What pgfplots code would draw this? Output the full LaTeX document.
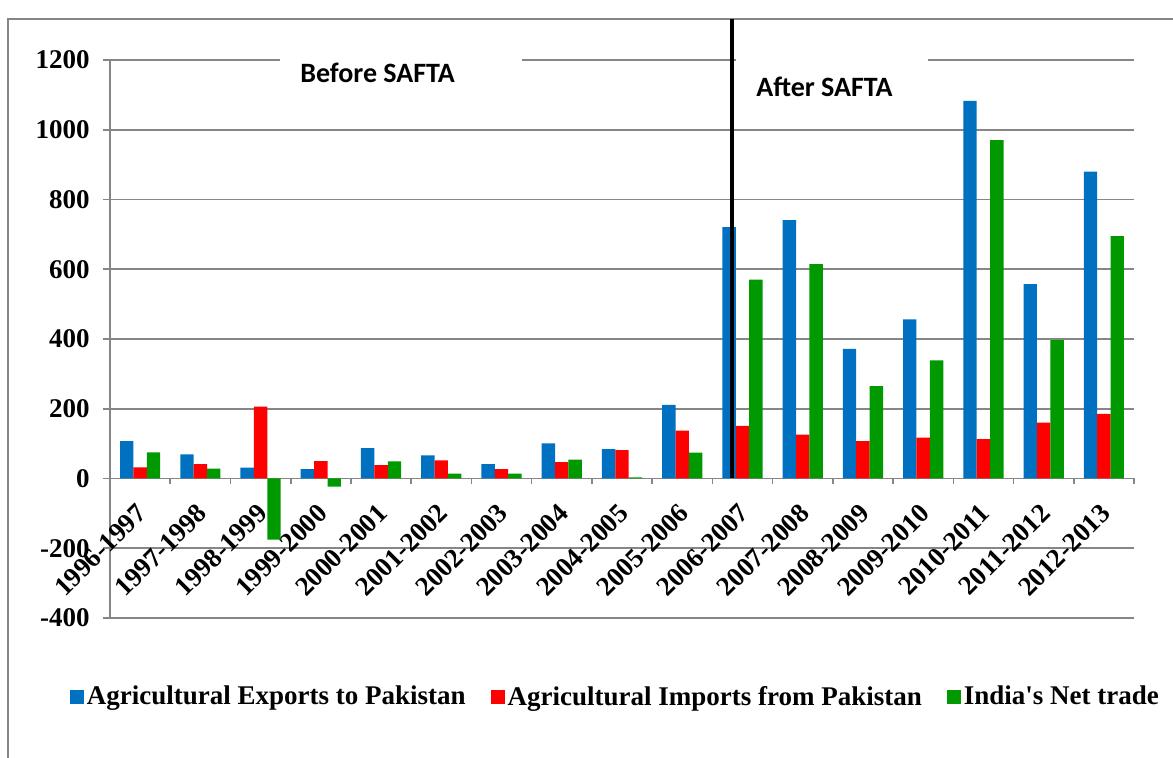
\documentclass[border=0pt]{standalone}
\usepackage{pgfplots}
\pgfplotsset{compat=1.18}
\usepackage{fontspec}
\setmainfont{Liberation Serif}
\newfontfamily\calibri{Carlito}
\definecolor{cblue}{RGB}{0,112,192}
\definecolor{cred}{RGB}{255,0,0}
\definecolor{cgreen}{RGB}{0,153,0}
\definecolor{cgrid}{RGB}{134,134,134}
\begin{document}
\begin{tikzpicture}
\useasboundingbox (0,0) rectangle (586.5pt,379pt);
\draw[cgrid, line width=0.6pt] (4pt,0pt) -- (4pt,369.5pt) -- (586.5pt,369.5pt);
\begin{axis}[
  at={(55pt,70pt)}, anchor=south west,
  scale only axis, width=512pt, height=279pt,
  xmin=-0.5, xmax=16.5, ymin=-400, ymax=1200,
  clip=false,
  axis x line*=middle, axis y line*=left,
  axis line style={cgrid, line width=0.8pt},
  ybar=0pt, bar width=6.7pt,
  xtick={0,...,16},
  xticklabels={1996-1997,1997-1998,1998-1999,1999-2000,2000-2001,2001-2002,2002-2003,2003-2004,2004-2005,2005-2006,2006-2007,2007-2008,2008-2009,2009-2010,2010-2011,2011-2012,2012-2013},
  minor xtick={-0.5,0.5,...,16.5},
  ytick={-400,-200,...,1200},
  yticklabels={-400,-200,0,200,400,600,800,1000,1200},
  tick align=outside,
  major tick length=3.5pt, minor tick length=3pt,
  tick style={cgrid, line width=0.8pt},
  major x tick style={draw=none},
  ymajorgrids, grid style={cgrid, line width=0.8pt},
  ticklabel style={font=\fontsize{13.5}{15}\selectfont\bfseries},
  xticklabel style={inner sep=0pt, xshift=1pt, yshift=-11.5pt, rotate=45, anchor=east},
  yticklabel style={inner sep=0pt, xshift=-6.5pt},
  hide obscured x ticks=false, hide obscured y ticks=false,
  legend columns=3,
  legend style={at={(0.494,-0.1416)}, anchor=center, draw=none, fill=none,
    font=\fontsize{13.5}{15}\selectfont\bfseries,
    nodes={inner xsep=1.5pt, inner ysep=2pt},
    /tikz/every even column/.append style={column sep=11pt}},
]
\addplot[fill=cblue, draw=none, legend image code/.code={\fill[cblue] (0pt,-3.5pt) rectangle (7pt,3.5pt);}] coordinates {
(0,107) (1,69) (2,31) (3,27) (4,87) (5,66) (6,41) (7,101) (8,84) (9,211)
(10,721) (11,741) (12,372) (13,456) (14,1083) (15,557) (16,880)};
\addplot[fill=cred, draw=none, legend image code/.code={\fill[cred] (0pt,-3.5pt) rectangle (7pt,3.5pt);}] coordinates {
(0,32) (1,41) (2,206) (3,50) (4,38) (5,52) (6,27) (7,47) (8,81) (9,137)
(10,151) (11,126) (12,107) (13,117) (14,113) (15,160) (16,185)};
\addplot[fill=cgreen, draw=none, legend image code/.code={\fill[cgreen] (0pt,-3.5pt) rectangle (7pt,3.5pt);}] coordinates {
(0,75) (1,28) (2,-175) (3,-23) (4,49) (5,14) (6,14) (7,54) (8,3) (9,74)
(10,570) (11,615) (12,265) (13,339) (14,970) (15,397) (16,695)};
\legend{Agricultural Exports to Pakistan, Agricultural Imports from Pakistan, India\textquotesingle s Net trade}
\fill[white] (axis cs:2.32,1085) rectangle (axis cs:6.34,1243);
\fill[white] (axis cs:9.89,1085) rectangle (axis cs:13.08,1243);
\node[anchor=base west, inner sep=0pt, font=\calibri\fontsize{14}{16}\selectfont\bfseries] at (axis cs:2.654,1135) {Before SAFTA};
\node[anchor=base west, inner sep=0pt, font=\calibri\fontsize{14}{16}\selectfont\bfseries] at (axis cs:10.225,1094) {After SAFTA};
\draw[black, line width=2pt] (axis cs:9.82,0) -- (axis cs:9.82,1317);
\end{axis}
\end{tikzpicture}
\end{document}
